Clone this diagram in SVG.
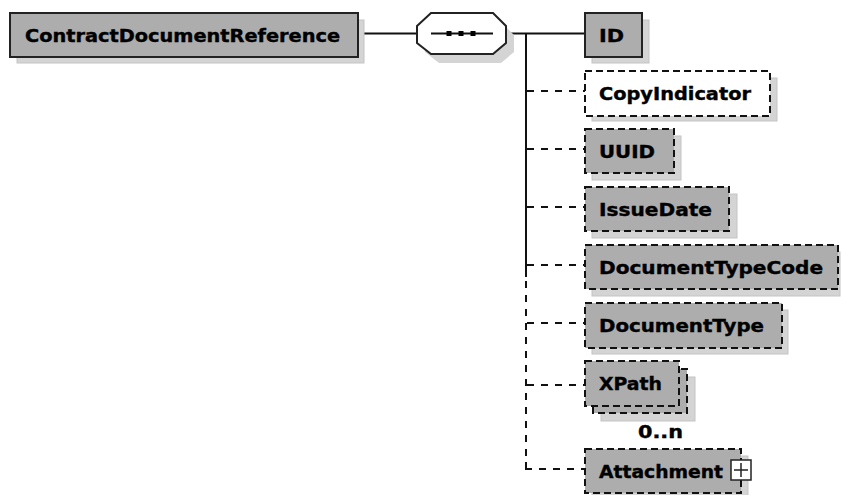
<svg xmlns="http://www.w3.org/2000/svg" width="841" height="495" viewBox="0 0 841 495">
<style>
.sh{fill:#d4d4d4;stroke:#c4c4c4;stroke-width:1}
.box{fill:#adadad;stroke:#222;stroke-width:2}
.opt{fill:#adadad;stroke:#111;stroke-width:2;stroke-dasharray:7,4}
.optw{fill:#fff;stroke:#111;stroke-width:2;stroke-dasharray:7,4}
.t{font-family:"DejaVu Sans",sans-serif;font-weight:bold;font-size:18px;fill:#000;stroke:#000;stroke-width:0.4}
.ln{stroke:#111;stroke-width:2;fill:none}
.dl{stroke:#111;stroke-width:2;fill:none;stroke-dasharray:7,7}
</style>
<rect width="841" height="495" fill="#fff"/>
<g id="connectors">
<line class="ln" x1="358" y1="33.5" x2="417" y2="33.5"/>
<line class="ln" x1="506" y1="33.5" x2="526" y2="33.5"/>
<line class="ln" x1="526" y1="33" x2="526" y2="277"/>
<line class="dl" x1="526" y1="281" x2="526" y2="469"/>
<line class="ln" x1="526" y1="33.5" x2="585" y2="33.5"/>
<line class="dl" x1="527" y1="91" x2="585" y2="91"/>
<line class="dl" x1="527" y1="149" x2="585" y2="149"/>
<line class="dl" x1="527" y1="207" x2="585" y2="207"/>
<line class="dl" x1="527" y1="265" x2="585" y2="265"/>
<line class="dl" x1="527" y1="323" x2="585" y2="323"/>
<line class="dl" x1="527" y1="385" x2="585" y2="385"/>
<path class="ln" d="M526,462 V469 H532"/>
<line class="dl" x1="539" y1="469" x2="585" y2="469"/>
</g>
<g id="ContractDocumentReference">
<rect class="sh" x="17" y="20" width="347" height="43"/>
<rect class="box" x="10" y="13" width="348" height="44"/>
<text class="t" x="25" y="42" textLength="315" lengthAdjust="spacingAndGlyphs" font-size="20">ContractDocumentReference</text>
</g>
<g id="sequence">
<path d="M425,35 L439,22 L501,22 L514,35 L514,52 L501,63 L439,63 L425,52 Z" fill="#d4d4d4"/>
<path d="M417,26 L431,13 L493,13 L506,26 L506,43 L493,54 L431,54 L417,43 Z" fill="#fff" stroke="#222" stroke-width="2"/>
<line class="ln" x1="431" y1="33.5" x2="493" y2="33.5"/>
<rect x="446.5" y="31" width="5" height="5" fill="#000"/>
<rect x="458.5" y="31" width="5" height="5" fill="#000"/>
<rect x="470.5" y="31" width="5" height="5" fill="#000"/>
</g>
<g id="ID">
<rect class="sh" x="592" y="20" width="57" height="43"/>
<rect class="box" x="585" y="13" width="57" height="44"/>
<text class="t" x="599" y="42" textLength="25" lengthAdjust="spacingAndGlyphs">ID</text>
</g>
<g id="CopyIndicator">
<rect class="sh" x="592" y="78" width="185" height="43"/>
<rect class="optw" x="585" y="71" width="185" height="45"/>
<text class="t" x="599" y="100" textLength="152" lengthAdjust="spacingAndGlyphs">CopyIndicator</text>
</g>
<g id="UUID">
<rect class="sh" x="592" y="136" width="89" height="44"/>
<rect class="opt" x="585" y="129" width="89" height="44"/>
<text class="t" x="599" y="158" textLength="56" lengthAdjust="spacingAndGlyphs">UUID</text>
</g>
<g id="IssueDate">
<rect class="sh" x="592" y="194" width="145" height="44"/>
<rect class="opt" x="585" y="187" width="144" height="44"/>
<text class="t" x="599" y="216" textLength="113" lengthAdjust="spacingAndGlyphs">IssueDate</text>
</g>
<g id="DocumentTypeCode">
<rect class="sh" x="592" y="252" width="248" height="44"/>
<rect class="opt" x="585" y="245" width="253" height="44"/>
<text class="t" x="599" y="274" textLength="224" lengthAdjust="spacingAndGlyphs">DocumentTypeCode</text>
</g>
<g id="DocumentType">
<rect class="sh" x="592" y="310" width="196" height="44"/>
<rect class="opt" x="585" y="303" width="197" height="45"/>
<text class="t" x="599" y="332" textLength="165" lengthAdjust="spacingAndGlyphs">DocumentType</text>
</g>
<g id="XPath">
<rect class="sh" x="601" y="377" width="94" height="44"/>
<rect class="opt" x="593" y="369" width="94" height="44"/>
<rect class="opt" x="585" y="361" width="94" height="45"/>
<text class="t" x="599" y="390" textLength="63" lengthAdjust="spacingAndGlyphs">XPath</text>
<text class="t" x="638" y="438" textLength="45" lengthAdjust="spacingAndGlyphs" font-size="16">0..n</text>
</g>
<g id="Attachment">
<rect class="sh" x="592" y="456" width="156" height="44"/>
<rect class="opt" x="585" y="449" width="156" height="44"/>
<text class="t" x="599" y="478" textLength="124" lengthAdjust="spacingAndGlyphs">Attachment</text>
<rect x="731" y="460" width="20" height="20" fill="#fff" stroke="#222" stroke-width="1.5"/>
<path d="M734,470 H748 M741,463 V477" stroke="#222" stroke-width="1.5"/>
</g>
</svg>
